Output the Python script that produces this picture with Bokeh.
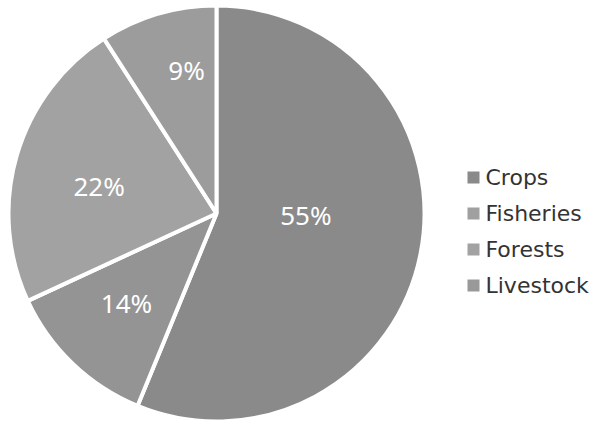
import math
from bokeh.plotting import figure
from bokeh.models import Range1d, ColumnDataSource
from bokeh.core.properties import value
from bokeh.embed import file_html
from bokeh.resources import INLINE

categories = ["Crops", "Fisheries", "Forests", "Livestock"]
shares = [56.2, 11.9, 22.8, 9.1]
labels = ["55%", "14%", "22%", "9%"]
colors = ["#8a8a8a", "#949494", "#a2a2a2", "#9c9c9c"]
legend_colors = ["#8a8a8a", "#a0a0a0", "#a2a2a2", "#999999"]
label_angle_frac = [0.451, 0.534, 0.465, 0.64]
label_radius_frac = [0.43, 0.61, 0.58, 0.705]

W, H = 590, 421
cx, cy, R = 216, 208, 208

p = figure(width=W, height=H, x_range=Range1d(0, W), y_range=Range1d(0, H),
           output_backend="svg", toolbar_location=None, min_border=0)
p.axis.visible = False
p.xgrid.visible = False
p.ygrid.visible = False
p.outline_line_color = None
p.background_fill_color = "white"
p.border_fill_color = "white"

total = sum(shares)
starts, ends, lx, ly = [], [], [], []
cum = 0.0
for i, s in enumerate(shares):
    a0 = cum / total * 2 * math.pi
    cum += s
    a1 = cum / total * 2 * math.pi
    starts.append(math.pi / 2 - a0)
    ends.append(math.pi / 2 - a1)
    la = a0 + (a1 - a0) * label_angle_frac[i]
    r = R * label_radius_frac[i]
    lx.append(cx + r * math.sin(la))
    ly.append(cy + r * math.cos(la))

src = ColumnDataSource(dict(cat=categories, start=starts, end=ends, color=colors,
                            lx=lx, ly=ly, label=labels))
p.wedge(x=cx, y=cy, radius=R, start_angle="start", end_angle="end", direction="clock",
        fill_color="color", line_color="white", line_width=4, source=src)
p.text(x="lx", y="ly", text="label", source=src, text_color="white",
       text_font=value("Noto Sans"), text_font_size="26px",
       text_align="center", text_baseline="middle")

# legend
leg_x0, leg_y0, step = 473, 244, 36
leg = ColumnDataSource(dict(
    sx=[leg_x0] * len(categories),
    sy=[leg_y0 - i * step for i in range(len(categories))],
    tx=[leg_x0 + 12] * len(categories),
    cat=categories, color=legend_colors))
p.rect(x="sx", y="sy", width=12, height=12, fill_color="color", line_color=None, source=leg)
p.text(x="tx", y="sy", text="cat", source=leg, text_color="#333333",
       text_font=value("DejaVu Sans"), text_font_size="22px",
       text_align="left", text_baseline="middle")

open("out.html", "w").write(file_html(p, INLINE))
